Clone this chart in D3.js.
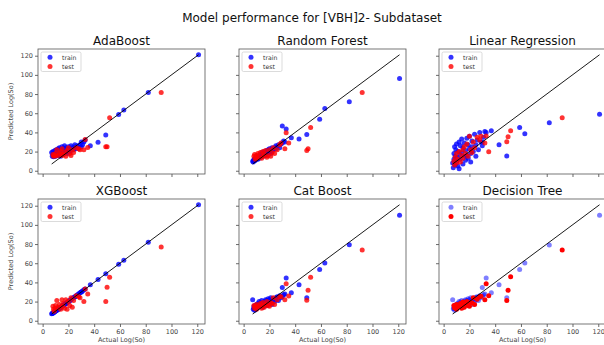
<!DOCTYPE html>
<html>
<head>
<meta charset="utf-8">
<script src="https://cdn.jsdelivr.net/npm/d3@7"></script>
<style>
  body { margin: 0; background: #fff; }
  text { font-family: "DejaVu Sans", sans-serif; }
</style>
</head>
<body>
<div id="chart"></div>
<script>
// data
const models = ['AdaBoost', 'Random Forest', 'Linear Regression', 'XGBoost', 'Cat Boost', 'Decision Tree'];
const ticks = [0, 20, 40, 60, 80, 100, 120];
const diagLine = [7, 121];

const trainActual = [121, 82, 63, 59, 49, 43, 37, 33, 30, 31,
  7, 7.5, 8, 8, 8.5, 9, 9, 9.5, 10, 10,
  10.5, 11, 11, 12, 12, 12.5, 13, 13, 14, 14,
  15, 15, 16, 16, 17, 17, 18, 18, 19, 19,
  20, 20, 21, 21, 22, 22, 23, 24, 25, 25,
  26, 27, 28, 29, 30, 32];
const testActual = [92, 52, 50, 49, 33, 35, 32, 29,
  8, 8.5, 9, 10, 10, 11, 12, 13, 14, 15,
  15, 16, 17, 18, 19, 20, 21, 22, 23, 24,
  26, 28];

const adaTrain = [121, 81.7, 63.3, 58.8, 37.2, 29.6, 26, 32, 30, 27,
  19, 15, 17, 20, 14.5, 18, 16, 21, 19, 15,
  22, 17, 20, 23, 16, 19, 24, 18, 21, 15,
  22, 25, 17, 20, 26, 23, 19, 24, 21, 18,
  22, 25, 20, 23, 26, 21, 24, 22, 25, 27,
  23, 26, 24, 27, 25, 30];
const adaTest = [81.7, 55.3, 25, 25, 32.7, 24.3, 22, 22,
  17, 15, 16, 18, 15.5, 22, 16, 18, 20, 16,
  23, 17, 19, 15, 21, 24, 18, 16, 22, 19,
  24, 23];

const rfTrain = [96.3, 72, 65, 53.6, 37.9, 33, 34.4, 43.5, 46.6, 31,
  10, 9, 12, 11, 10.5, 13, 11, 14, 12, 15,
  13, 14, 12, 16, 13, 15, 17, 14, 16, 19,
  18, 15, 20, 17, 19, 16, 21, 18, 20, 22,
  19, 23, 21, 18, 24, 20, 22, 24, 23, 26,
  25, 27, 24, 28, 29, 30];
const rfTest = [81.7, 45.2, 23, 21.2, 39.7, 29, 23, 29,
  15, 17, 12, 13, 16, 18, 14, 19, 13, 20,
  15, 17, 21, 14, 16, 22, 15, 19, 24, 18,
  22, 27];

const lrTrain = [59, 50, 38.6, 45.2, 15.3, 27, 41.7, 40, 30, 35,
  8, 3, 18, 12, 25, 6, 15, 22, 10, 28,
  14, 5, 20, 30, 2, 17, 26, 12, 33, 19,
  7, 24, 15, 29, 11, 21, 34, 16, 27, 13,
  23, 36, 18, 9, 31, 25, 20, 38, 15, 27,
  32, 22, 40, 30, 26, 41];
const lrTest = [55.3, 41.7, 35.5, 30.3, 36.2, 19.8, 29, 36,
  10, 6, 14, 8, 18, 12, 20, 9, 16, 22,
  13, 25, 18, 28, 15, 36, 22, 19, 30, 24,
  35, 32];

const xgbTrain = [121, 82, 63, 59, 49, 43, 37.5, 33, 30, 31,
  7.2, 7.6, 8.1, 8.3, 8.4, 9.2, 9.0, 9.6, 10.2, 10.1,
  10.4, 11.2, 11.0, 12.1, 11.8, 12.6, 13.2, 12.9, 14.1, 13.8,
  15.2, 14.9, 16.1, 15.8, 17.2, 16.9, 18.1, 17.8, 19.2, 18.9,
  20.1, 19.8, 21.2, 20.9, 22.1, 21.8, 23.1, 24.2, 25.1, 24.8,
  26.2, 27.1, 28.1, 29.2, 30.1, 32.2];
const xgbTest = [77, 45.5, 35, 20, 33, 28, 20, 24,
  15, 12, 10, 16, 13, 21, 14, 17, 12, 15,
  22, 18, 13, 22, 12, 20, 16, 24, 14, 21,
  26, 25];

const catTrain = [110, 79.3, 60.3, 53.4, 24, 37.6, 29.3, 44.5, 34.8, 27,
  22, 12, 13, 15, 11, 16, 14, 12, 17, 13,
  15, 18, 14, 16, 20, 15, 17, 19, 16, 21,
  18, 14, 20, 17, 22, 19, 21, 16, 23, 20,
  18, 22, 19, 24, 21, 17, 23, 20, 24, 22,
  25, 21, 26, 24, 25, 28];
const catTest = [73.8, 45.5, 31.7, 21.4, 38.6, 25.9, 22, 25,
  16, 13, 15, 12, 17, 14, 16, 18, 13, 19,
  15, 14, 17, 20, 16, 15, 19, 18, 24, 17,
  22, 25];

const dtTrain = [110, 79, 60.3, 53.4, 24, 37.6, 29.3, 44.5, 34.8, 27,
  22, 12.5, 13, 15.5, 11, 16, 14, 12, 17.5, 13,
  15, 18, 14.5, 16, 20, 15, 17, 19.5, 16, 21,
  18, 14, 20.5, 17, 22, 19, 21, 16.5, 23, 20,
  18.5, 22, 19, 24, 21.5, 17, 23, 20, 24.5, 22,
  25, 21, 26, 24, 25.5, 28];
const dtTest = [73.8, 46, 31.7, 21, 38.6, 26, 22, 25.5,
  16, 13.5, 15, 12, 17, 14.5, 16, 18, 13, 19.5,
  15, 14, 17.5, 20, 16, 15, 19, 18.5, 24, 17,
  22.5, 25];

const trainPred = [adaTrain, rfTrain, lrTrain, xgbTrain, catTrain, dtTrain];
const testPred = [adaTest, rfTest, lrTest, xgbTest, catTest, dtTest];

let width = 604;
let height = 345;
let colX = [38, 239, 439];
let rowY = [49, 199];
let pw = 167, ph = 125;

let svg = d3.select('#chart')
  .append('svg')
  .attr('width', width)
  .attr('height', height);

svg.append('text')
  .attr('x', 312).attr('y', 22)
  .attr('text-anchor', 'middle')
  .attr('font-size', 12)
  .attr('fill', '#111')
  .text('Model performance for [VBH]2- Subdataset');

let x = d3.scaleLinear().domain([-3.6, 126]).range([0, pw]);
let y = d3.scaleLinear().domain([-3.4, 127]).range([ph, 0]);

models.forEach((name, i) => {
  let col = i % 3, row = Math.floor(i / 3);
  let g = svg.append('g').attr('transform', `translate(${colX[col]},${rowY[row]})`);

  // subplot title
  g.append('text')
    .attr('x', pw / 2).attr('y', -4)
    .attr('text-anchor', 'middle')
    .attr('font-size', 12)
    .attr('fill', '#111')
    .text(name);

  // axes, labels only on the outer row / column
  let xAxis = d3.axisBottom(x).tickValues(ticks).tickSize(3).tickPadding(2)
    .tickFormat(row == 1 ? d3.format('d') : '');
  let yAxis = d3.axisLeft(y).tickValues(ticks).tickSize(3).tickPadding(2)
    .tickFormat(col == 0 ? d3.format('d') : '');

  let gx = g.append('g').attr('transform', `translate(0,${ph})`).call(xAxis);
  let gy = g.append('g').call(yAxis);
  [gx, gy].forEach(a => {
    a.select('.domain').remove();
    a.selectAll('line').attr('stroke', '#444').attr('stroke-width', 0.8);
    a.selectAll('text').attr('font-size', 6.5).attr('fill', '#444')
      .attr('font-family', '"DejaVu Sans", sans-serif');
  });

  if (col == 0) {
    g.append('text')
      .attr('transform', `translate(-25,${ph / 2}) rotate(-90)`)
      .attr('text-anchor', 'middle')
      .attr('font-size', 6.5)
      .attr('fill', '#444')
      .text('Predicted Log(So)');
  }
  if (row == 1) {
    g.append('text')
      .attr('x', pw / 2).attr('y', ph + 18)
      .attr('text-anchor', 'middle')
      .attr('font-size', 6.5)
      .attr('fill', '#444')
      .text('Actual Log(So)');
  }

  let plot = g.append('g');
  let isDT = name == 'Decision Tree';

  plot.selectAll('circle.train')
    .data(trainActual.map((a, k) => [a, trainPred[i][k]]))
    .enter().append('circle')
    .attr('class', 'train')
    .attr('cx', d => x(d[0]))
    .attr('cy', d => y(d[1]))
    .attr('r', 2.5)
    .attr('fill', 'blue')
    .attr('fill-opacity', isDT ? 0.5 : 0.8);

  plot.selectAll('circle.test')
    .data(testActual.map((a, k) => [a, testPred[i][k]]))
    .enter().append('circle')
    .attr('class', 'test')
    .attr('cx', d => x(d[0]))
    .attr('cy', d => y(d[1]))
    .attr('r', 2.5)
    .attr('fill', 'red')
    .attr('fill-opacity', isDT ? 1 : 0.8);

  plot.append('line')
    .attr('x1', x(diagLine[0])).attr('y1', y(diagLine[0]))
    .attr('x2', x(diagLine[1])).attr('y2', y(diagLine[1]))
    .attr('stroke', 'black')
    .attr('stroke-width', 0.9);

  // legend
  let lg = g.append('g').attr('transform', 'translate(3,3)');
  lg.append('rect')
    .attr('width', 40).attr('height', 19.5).attr('rx', 1.5)
    .attr('fill', 'white').attr('fill-opacity', 0.8)
    .attr('stroke', '#ccc').attr('stroke-width', 0.7);
  [['train', 'blue', isDT ? 0.5 : 0.8], ['test', 'red', isDT ? 1 : 0.8]].forEach((l, k) => {
    lg.append('circle')
      .attr('cx', 9).attr('cy', 5.3 + k * 9.3).attr('r', 2.5)
      .attr('fill', l[1]).attr('fill-opacity', l[2]);
    lg.append('text')
      .attr('x', 21).attr('y', 7.5 + k * 9.3)
      .attr('font-size', 6.2)
      .attr('fill', '#333')
      .text(l[0]);
  });

  // frame
  g.append('rect')
    .attr('width', pw).attr('height', ph)
    .attr('fill', 'none')
    .attr('stroke', '#555')
    .attr('stroke-width', 0.8);
});
</script>
</body>
</html>
